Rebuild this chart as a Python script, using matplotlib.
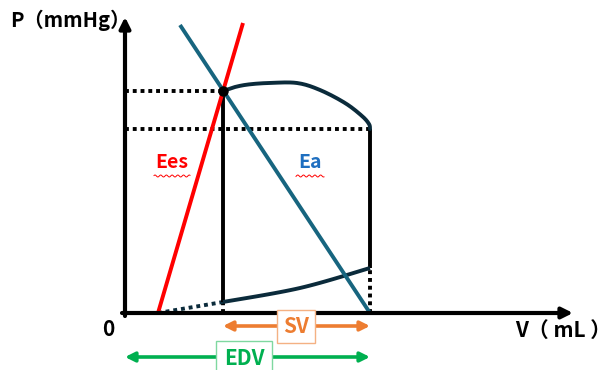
import numpy as np
import matplotlib
matplotlib.use("Agg")
import matplotlib.pyplot as plt

plt.rcParams['font.family'] = ['Noto Sans CJK JP', 'DejaVu Sans']

# PV loop schematic values (V in mL-ish units, P in mmHg-ish units)
V0 = 16.5          # Ees x-intercept
ESV = 49.0
EDV = 122.5
ESP = 111.0        # end-systolic pressure (dot)
DBP = 92.0         # aortic valve opening pressure
EDP = 22.5

# ejection curve (ESV side goes up and over to EDV)
ejectV = [49.0, 55.0, 62.0, 72.0, 86.0, 97.5, 110.0, 118.5, 122.0, 122.5]
ejectP = [111.0, 113.0, 114.3, 115.0, 115.0, 111.5, 105.0, 98.5, 94.5, 92.0]
# filling curve
fillV = [49.0, 87.5, 122.5]
fillP = [5.5, 12.5, 22.5]
# Ees and Ea lines
eesV = [V0, 59.0]
eesP = [0.0, 145.0]
eaV = [27.5, EDV]
eaP = [144.0, 0.0]


def smooth(xs, ys, n=16):
    # catmull-rom through the points
    pts = np.column_stack([xs, ys])
    pts = np.vstack([pts[0], pts, pts[-1]])
    out = []
    for i in range(1, len(pts) - 2):
        p0, p1, p2, p3 = pts[i - 1], pts[i], pts[i + 1], pts[i + 2]
        for t in np.linspace(0, 1, n, endpoint=False):
            t2, t3 = t * t, t * t * t
            out.append(0.5 * ((2 * p1) + (-p0 + p2) * t + (2 * p0 - 5 * p1 + 4 * p2 - p3) * t2
                              + (-p0 + 3 * p1 - 3 * p2 + p3) * t3))
    out.append(pts[-2])
    out = np.array(out)
    return out[:, 0], out[:, 1]


fig = plt.figure(figsize=(6.16, 3.70), dpi=100)
ax = fig.add_axes([0, 0, 1, 1])
ax.set_xlim(-62.5, 245.5)
ax.set_ylim(-28.5, 156.5)
ax.axis('off')

loopc = '#0b2b3b'
dot = (0, (1, 1))

# axes arrows
ax.annotate('', xy=(0, 148), xytext=(0, -1.5),
            arrowprops=dict(arrowstyle='-|>', color='black', lw=3, mutation_scale=16, shrinkA=0, shrinkB=0))
ax.annotate('', xy=(224, 0), xytext=(-1.5, 0),
            arrowprops=dict(arrowstyle='-|>', color='black', lw=3, mutation_scale=16, shrinkA=0, shrinkB=0))

# dotted guide lines
ax.plot([0, ESV], [ESP, ESP], color='black', lw=2.8, linestyle=dot)
ax.plot([0, EDV], [DBP, DBP], color='black', lw=2.8, linestyle=dot)
ax.plot([EDV, EDV], [0, EDP], color='black', lw=2.8, linestyle=dot)
ax.plot([ESV, ESV], [0, fillP[0]], color='black', lw=2.8, linestyle=dot)
ax.plot([V0, ESV], [0, fillP[0]], color=loopc, lw=2.8, linestyle=dot)

# loop
ax.plot([ESV, ESV], [ESP, fillP[0]], color='black', lw=2.8, solid_capstyle='butt')
ax.plot([EDV, EDV], [EDP, DBP], color='black', lw=2.8, solid_capstyle='butt')
ex, ey = smooth(ejectV, ejectP)
ax.plot(ex, ey, color=loopc, lw=2.8, solid_capstyle='round')
fx, fy = smooth(fillV, fillP)
ax.plot(fx, fy, color=loopc, lw=2.8, solid_capstyle='butt')

# elastance lines
ax.plot(eesV, eesP, color='#ff0000', lw=2.8, solid_capstyle='butt')
ax.plot(eaV, eaP, color='#17657f', lw=2.8, solid_capstyle='butt')
ax.plot([ESV], [ESP], 'o', color='black', markersize=6.5)

# labels
ax.text(-57.5, 146.5, 'P（mmHg）', fontsize=14.5, fontweight='bold', ha='left', va='center')
ax.text(195, -8.5, 'V（ mL ）', fontsize=15, fontweight='bold', ha='left', va='center')
ax.text(-8.5, -8.5, '0', fontsize=15, fontweight='bold', ha='center', va='center')

ax.text(23.5, 75.5, 'Ees', fontsize=14, fontweight='bold', color='#ff0000', ha='center', va='center')
ax.text(92.5, 75.5, 'Ea', fontsize=14, fontweight='bold', color='#1f6fc0', ha='center', va='center')
# squiggly underlines
wx = np.linspace(14.5, 32.5, 60)
ax.plot(wx, 68.5 + 0.5 * np.sin(wx * 2.2), color='#ff0000', lw=0.7)
wx = np.linspace(85.5, 99.5, 50)
ax.plot(wx, 68.5 + 0.5 * np.sin(wx * 2.2), color='#ff0000', lw=0.7)

# SV / EDV arrows
ax.annotate('', xy=(EDV, -6.5), xytext=(ESV, -6.5),
            arrowprops=dict(arrowstyle='<|-|>', color='#ed7d31', lw=2.6, mutation_scale=14, shrinkA=0, shrinkB=0))
ax.text(85.5, -6.8, 'SV', fontsize=15, fontweight='bold', color='#ed7d31', ha='center', va='center',
        bbox=dict(boxstyle='square,pad=0.3', fc='white', ec='#f4b183', lw=1))
ax.annotate('', xy=(EDV, -22), xytext=(0, -22),
            arrowprops=dict(arrowstyle='<|-|>', color='#00b050', lw=2.6, mutation_scale=14, shrinkA=0, shrinkB=0))
ax.text(59.5, -22.8, 'EDV', fontsize=15, fontweight='bold', color='#00b050', ha='center', va='center',
        bbox=dict(boxstyle='square,pad=0.35', fc='white', ec='#7fd8a0', lw=1))

fig.savefig('out.png', dpi=100)
